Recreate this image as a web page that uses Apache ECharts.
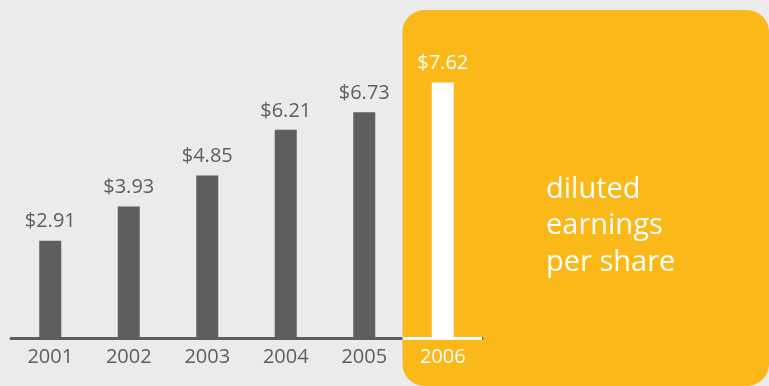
<!DOCTYPE html>
<html>
<head>
<meta charset="utf-8">
<script src="https://cdn.jsdelivr.net/npm/echarts@6/dist/echarts.min.js"></script>
<style>html,body{margin:0;padding:0;background:#ebebed;}#c{width:769px;height:386px;}</style>
</head>
<body>
<div id="c"></div>
<script>
var years = ['2001', '2002', '2003', '2004', '2005', '2006'];
var eps = [2.91, 3.93, 4.85, 6.21, 6.73, 7.62];
var panelText = 'diluted\nearnings\nper share';

var GRAY = '#5e5e60', ORANGE = '#fbb919', FONT = '"Open Sans", "Noto Sans", sans-serif';
var last = years.length - 1;
var chart = echarts.init(document.getElementById('c'), null, {renderer: 'canvas'});
chart.setOption({
  backgroundColor: '#ebebed',
  animation: false,
  grid: {left: 11, right: 287, top: 2.5, bottom: 47.5},
  title: {
    text: panelText, left: 546, top: 171, z: 10, padding: 0,
    textStyle: {color: '#ffffff', fontSize: 29, fontWeight: 'normal', fontFamily: FONT, lineHeight: 36.5}
  },
  xAxis: {
    type: 'category', data: years, z: 1,
    axisLine: {lineStyle: {color: GRAY, width: 3}},
    axisTick: {show: false},
    axisLabel: {
      margin: 9, fontSize: 20, fontFamily: FONT,
      color: function (v, i) { return v === years[last] ? '#ffffff' : GRAY; }
    }
  },
  yAxis: {type: 'value', min: 0, max: 10, show: false, splitLine: {show: false}},
  series: [{
    type: 'bar', z: 3, barWidth: 22,
    data: eps.map(function (v, i) {
      return {value: v, itemStyle: {color: i === last ? '#ffffff' : GRAY},
              label: {color: i === last ? '#ffffff' : GRAY}};
    }),
    label: {
      show: true, position: 'top', distance: 9, fontSize: 20, fontFamily: FONT,
      formatter: function (p) { return '$' + p.value.toFixed(2); }
    }
  }]
});
var p4 = chart.convertToPixel({xAxisIndex: 0}, years[last - 1]);
var p5 = chart.convertToPixel({xAxisIndex: 0}, years[last]);
var boundary = (p4 + p5) / 2;
var axisY = chart.convertToPixel({yAxisIndex: 0}, 0);
var rightEdge = p5 + (p5 - p4) / 2;
chart.setOption({
  graphic: [
    {type: 'rect', z: 0, shape: {x: boundary - 1, y: 10, width: 769 - boundary + 1, height: 376, r: 22},
     style: {fill: ORANGE}},
    {type: 'line', z: 5, shape: {x1: boundary - 1, y1: axisY, x2: rightEdge, y2: axisY},
     style: {stroke: '#ffffff', lineWidth: 3}}
  ]
});
</script>
</body>
</html>
